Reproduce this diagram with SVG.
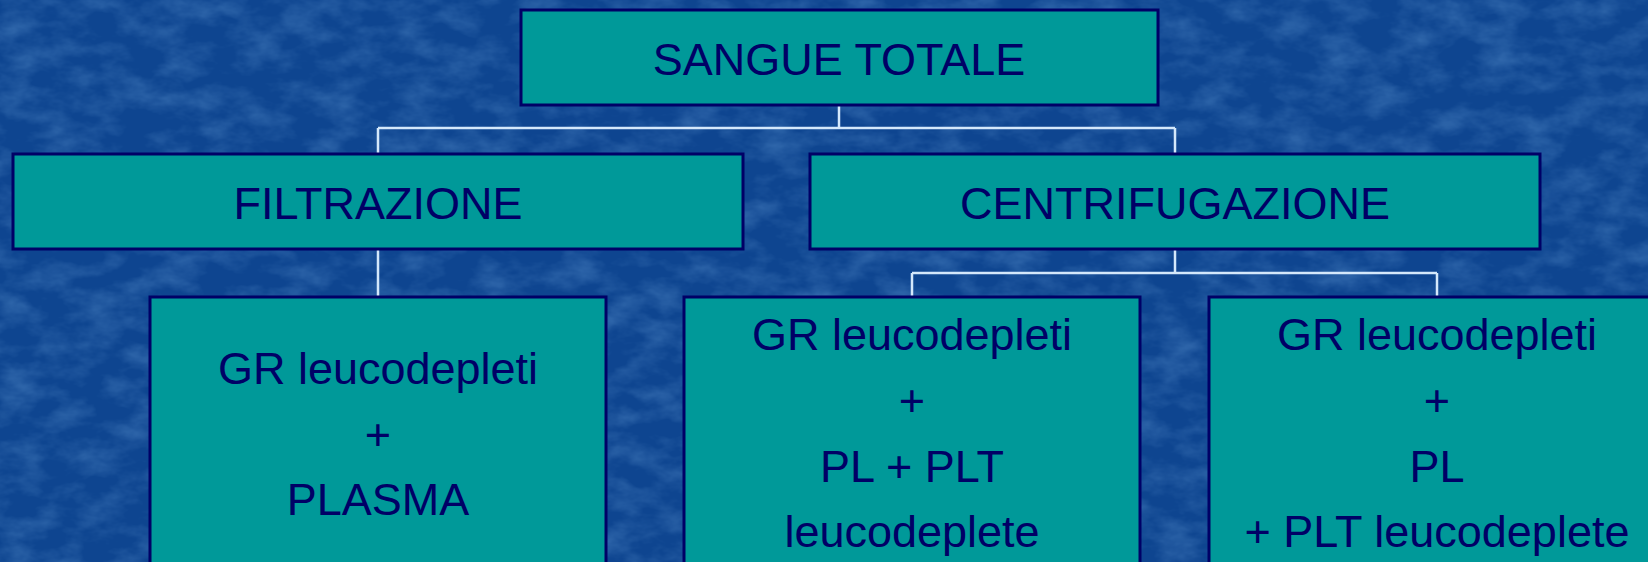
<svg xmlns="http://www.w3.org/2000/svg" width="1648" height="562" viewBox="0 0 1648 562">
<style>
.box{fill:#009999;stroke:#000066;stroke-width:3}
.t{font-family:"Liberation Sans",Arial,sans-serif;font-size:45px;fill:#000066;text-anchor:middle}
.c{fill:none;stroke:#d4e8fb;stroke-width:2.5}
</style>
<defs>
<filter id="tex" x="0" y="0" width="100%" height="100%">
<feTurbulence type="fractalNoise" baseFrequency="0.025 0.045" numOctaves="4" seed="3" result="n"/>
<feColorMatrix in="n" type="matrix" values="0 0 0 0 0.2  0 0 0 0 0.45  0 0 0 0 0.8  0 0 0 1.3 -0.5"/>
</filter>
</defs>
<g id="background">
<rect width="1648" height="562" fill="#0e4590"/>
<rect width="1648" height="562" filter="url(#tex)" opacity="0.45"/>
</g>
<g id="connectors">
<path class="c" d="M839 105V128M378 128H1175M378 128V153M1175 128V153"/>
<path class="c" d="M378 249V296"/>
<path class="c" d="M1175 249V273M912 273H1437M912 273V296M1437 273V296"/>
</g>
<g id="sangue-totale">
<rect class="box" x="521" y="10" width="637" height="95"/>
<text class="t" x="839" y="75">SANGUE TOTALE</text>
</g>
<g id="filtrazione">
<rect class="box" x="13" y="154" width="730" height="95"/>
<text class="t" x="378" y="219">FILTRAZIONE</text>
</g>
<g id="centrifugazione">
<rect class="box" x="810" y="154" width="730" height="95"/>
<text class="t" x="1175" y="219">CENTRIFUGAZIONE</text>
</g>
<g id="gr-plasma">
<rect class="box" x="150" y="297" width="456" height="300"/>
<text class="t" x="378" y="384">GR leucodepleti</text>
<text class="t" x="378" y="450">+</text>
<text class="t" x="378" y="515">PLASMA</text>
</g>
<g id="gr-pl-plt">
<rect class="box" x="684" y="297" width="456" height="300"/>
<text class="t" x="912" y="350">GR leucodepleti</text>
<text class="t" x="912" y="416">+</text>
<text class="t" x="912" y="482">PL + PLT</text>
<text class="t" x="912" y="547">leucodeplete</text>
</g>
<g id="gr-pl-plt2">
<rect class="box" x="1209" y="297" width="456" height="300"/>
<text class="t" x="1437" y="350">GR leucodepleti</text>
<text class="t" x="1437" y="416">+</text>
<text class="t" x="1437" y="482">PL</text>
<text class="t" x="1437" y="547">+ PLT leucodeplete</text>
</g>
</svg>
